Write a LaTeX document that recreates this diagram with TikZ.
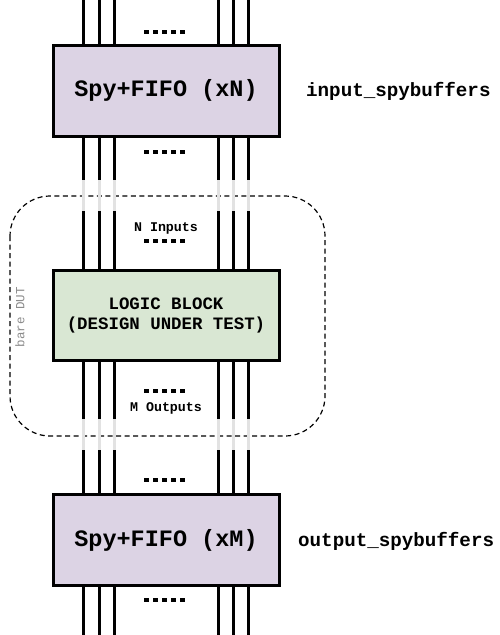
\documentclass[tikz,border=0pt]{standalone}
\usepackage{fontspec}
\setmonofont{Liberation Mono}
\begin{document}
\begin{tikzpicture}[x=1pt,y=-1pt,
  blk/.style={draw=black,line width=3pt,minimum width=226pt,inner sep=0pt,font=\ttfamily\bfseries},
  spy/.style={blk,fill=spyfill,minimum height=91pt,font=\ttfamily\bfseries\fontsize{23.5}{28}\selectfont},
  dut/.style={blk,fill=dutfill,minimum height=90pt,align=center,font=\ttfamily\bfseries\fontsize{17.4}{20}\selectfont},
  wire/.style={line width=3pt,black},
  ghost/.style={line width=3pt,color=ghostgray},
  lbl/.style={font=\ttfamily\bfseries\fontsize{19.2}{22}\selectfont,anchor=west,inner sep=0pt},
  small/.style={font=\ttfamily\bfseries\fontsize{13.3}{15}\selectfont,inner sep=0pt},
  dotsq/.style={fill=black,draw=none}
]
\definecolor{spyfill}{HTML}{DCD3E4}
\definecolor{dutfill}{HTML}{D9E7D3}
\definecolor{ghostgray}{HTML}{E2E2E2}
\useasboundingbox (0,0) rectangle (500,635);
\fill[white] (0,0) rectangle (500,635);

% dashed DUT region
\draw[line width=1.2pt,dash pattern=on 5pt off 3.5pt,rounded corners=40pt,color=black] (10,196) rectangle (325,436);
\node[rotate=90,font=\ttfamily\fontsize{12.5}{14}\selectfont,color=black!45,inner sep=0pt] (bare) at (20,317) {bare DUT};

% wires
\foreach \x in {83,99,114,218,233,248}{
  \coordinate (t\x) at (\x,0);
  \coordinate (a\x) at (\x,45);
  \coordinate (b\x) at (\x,136);
  \coordinate (c\x) at (\x,180);
  \coordinate (d\x) at (\x,211);
  \coordinate (e\x) at (\x,270);
  \coordinate (f\x) at (\x,360);
  \coordinate (g\x) at (\x,419);
  \coordinate (h\x) at (\x,450);
  \coordinate (i\x) at (\x,495);
  \coordinate (j\x) at (\x,585);
  \coordinate (k\x) at (\x,635);
  \draw[wire] (t\x) -- (a\x);
  \draw[wire] (b\x) -- (c\x);
  \draw[ghost] (c\x) -- (d\x);
  \draw[wire] (d\x) -- (e\x);
  \draw[wire] (f\x) -- (g\x);
  \draw[ghost] (g\x) -- (h\x);
  \draw[wire] (h\x) -- (i\x);
  \draw[wire] (j\x) -- (k\x);
}

% blocks
\node[spy] (inspy) at (166,90.5) {Spy+FIFO (xN)};
\node[dut] (logic) at (166,315) {LOGIC BLOCK\\(DESIGN UNDER TEST)};
\node[spy] (outspy) at (166,540) {Spy+FIFO (xM)};

\node[lbl] (inlbl) at (306,91) {input\_spybuffers};
\node[lbl] (outlbl) at (298,541) {output\_spybuffers};

\node[small] (nin) at (166,228) {N Inputs};
\node[small] (mout) at (166,408) {M Outputs};

% dot rows
\foreach \y in {32,152,241,391,480,600}{
  \foreach \k in {0,...,4}{
    \fill[dotsq] (144+\k*8.9,\y-2.3) rectangle ++(5,4.6);
  }
}
\end{tikzpicture}
\end{document}
